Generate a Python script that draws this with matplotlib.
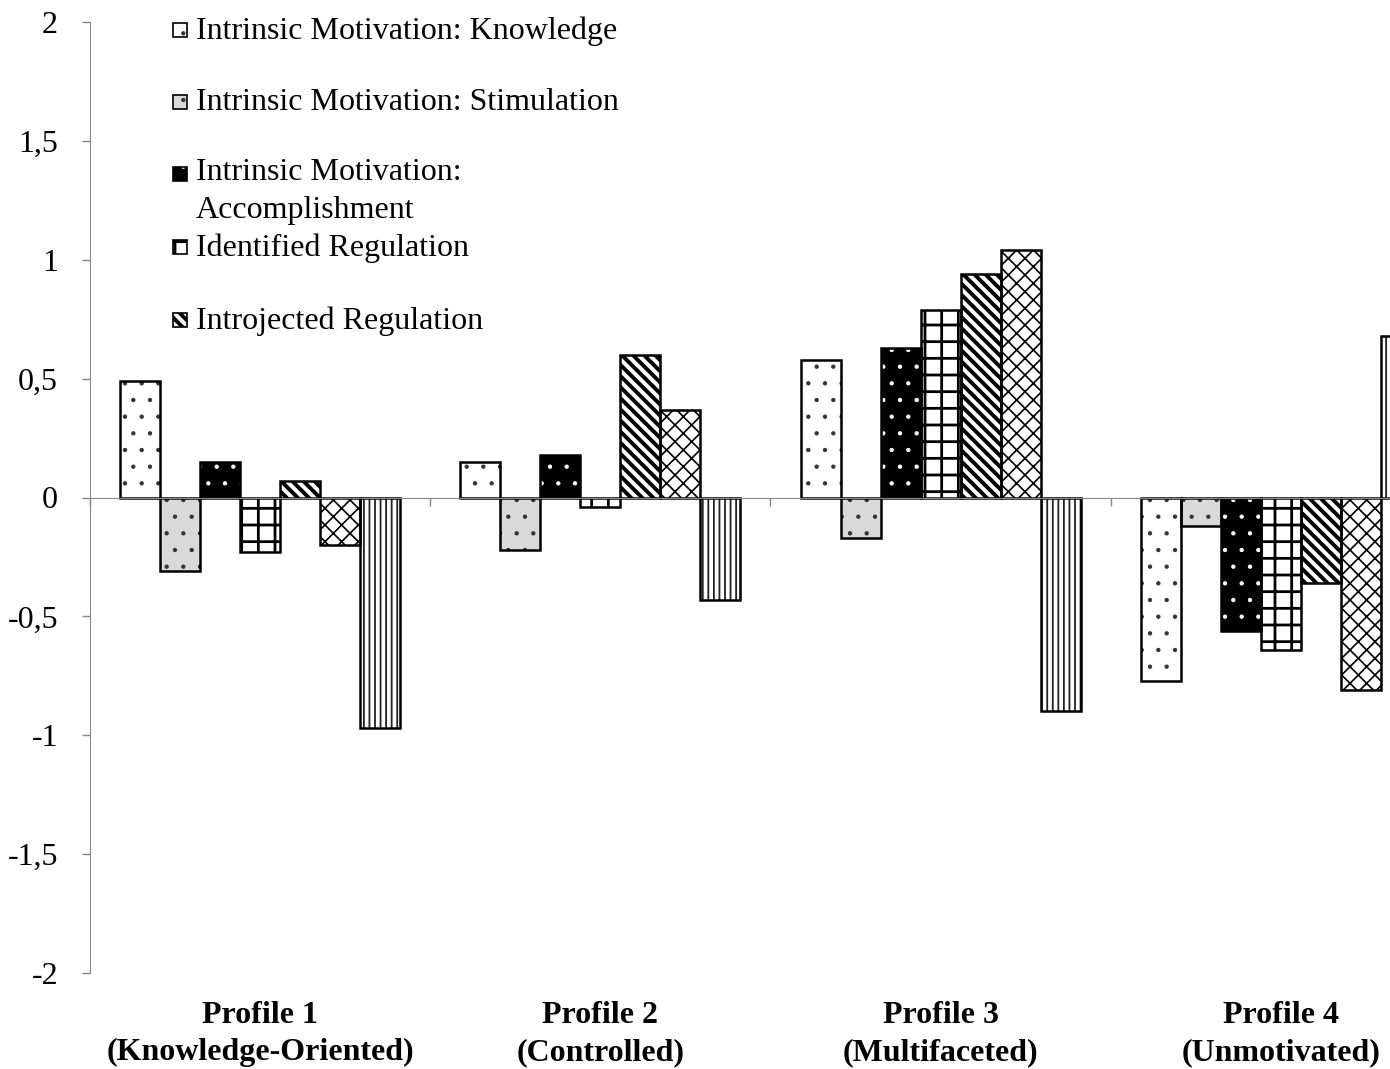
import matplotlib
matplotlib.use('Agg')
import matplotlib.pyplot as plt
import numpy as np
from matplotlib.patches import Rectangle

plt.rcParams['font.family'] = ['Liberation Serif', 'DejaVu Serif']

profiles = ["Profile 1\n(Knowledge-Oriented)", "Profile 2\n(Controlled)",
            "Profile 3\n(Multifaceted)", "Profile 4\n(Unmotivated)"]
series_names = ["Intrinsic Motivation: Knowledge", "Intrinsic Motivation: Stimulation",
                "Intrinsic Motivation:\nAccomplishment", "Identified Regulation",
                "Introjected Regulation", "External Regulation", "Amotivation"]
knowledge = [0.49, 0.15, 0.58, -0.77]
stimulation = [-0.31, -0.22, -0.17, -0.12]
accomplishment = [0.15, 0.18, 0.63, -0.56]
identified = [-0.23, -0.04, 0.79, -0.64]
introjected = [0.07, 0.60, 0.94, -0.36]
external = [-0.20, 0.37, 1.04, -0.81]
amotivation = [-0.97, -0.43, -0.90, 0.68]
series_values = [knowledge, stimulation, accomplishment, identified,
                 introjected, external, amotivation]
yticks = [-2, -1.5, -1, -0.5, 0, 0.5, 1, 1.5, 2]
ytick_labels = ["-2", "-1,5", "-1", "-0,5", "0", "0,5", "1", "1,5", "2"]

# style: facecolor, hatch colour, hatch, hatch linewidth
styles = [
    ('white', '#333333', '.', 0.7),
    ('#d9d9d9', '#333333', '.', 0.7),
    ('black', 'white', '.', 0.7),
    ('white', 'black', '+', 2.0),
    ('white', 'black', '\\\\\\', 2.8),
    ('white', 'black', 'xx', 1.2),
    ('white', '#222222', '|||', 1.3),
]

FS = 23
W, H = 1390, 1069
fig = plt.figure(figsize=(W / 100, H / 100), dpi=100)
ax = fig.add_axes([90 / W, 96 / H, (1451 - 90) / W, (973 - 22) / H])

def styled_bar(x, h, width, style):
    face, hcol, hatch, hlw = style
    with plt.rc_context({'hatch.linewidth': hlw}):
        bars = ax.bar(x, h, width, facecolor=face, edgecolor=hcol, hatch=hatch,
                      linewidth=0, zorder=2)
        for b in bars:
            if hasattr(b, 'set_hatch_linewidth'):
                b.set_hatch_linewidth(hlw)
    ax.bar(x, h, width, facecolor='none', edgecolor='black', linewidth=1.8, zorder=3)

x = np.arange(len(profiles))
n = len(series_values)
w = 40 / 340
for i, (vals, st) in enumerate(zip(series_values, styles)):
    styled_bar(x + (i - (n - 1) / 2) * w, vals, w, st)

ax.set_xlim(-0.5, len(profiles) - 0.5)
ax.set_ylim(-2, 2)
ax.set_yticks(yticks)
ax.set_yticklabels(ytick_labels, fontsize=FS)
ax.tick_params(axis='y', direction='out', length=6, width=1, color='#888888', pad=17)

for s in ['top', 'right']:
    ax.spines[s].set_visible(False)
ax.spines['left'].set_color('#888888')
ax.spines['bottom'].set_position(('data', 0))
ax.spines['bottom'].set_color('#888888')
ax.spines['bottom'].set_zorder(4)
ax.set_xticks(np.arange(len(profiles) + 1) - 0.5)
ax.set_xticklabels([])
ax.tick_params(axis='x', direction='out', length=6, width=1, color='#888888')

sec = ax.secondary_xaxis(0.0)
sec.set_xticks(x)
sec.set_xticklabels(profiles, fontsize=FS, fontweight='bold', linespacing=1.37)
sec.tick_params(axis='x', length=0, pad=20)
sec.spines['bottom'].set_visible(False)

# manual legend (first five entries, as shown in the original)
leg_y = [31, 103, 175, 248, 321]
for yc, name, st in zip(leg_y, series_names[:5], styles[:5]):
    face, hcol, hatch, hlw = st
    with plt.rc_context({'hatch.linewidth': hlw}):
        r = Rectangle((173 / W, 1 - (yc + 6) / H), 14 / W, 14 / H,
                      transform=fig.transFigure, facecolor=face, edgecolor=hcol,
                      hatch=hatch, linewidth=0)
        if hasattr(r, 'set_hatch_linewidth'):
            r.set_hatch_linewidth(hlw)
    fig.add_artist(r)
    fig.add_artist(Rectangle((173 / W, 1 - (yc + 6) / H), 14 / W, 14 / H,
                             transform=fig.transFigure, facecolor='none',
                             edgecolor='black', linewidth=1.2))
    if '\n' in name:
        fig.text(196 / W, 1 - (yc - 17) / H, name, fontsize=FS, va='top', ha='left',
                 linespacing=1.39)
    else:
        fig.text(196 / W, 1 - yc / H, name, fontsize=FS, va='center', ha='left')

fig.savefig('out.png', dpi=100)
